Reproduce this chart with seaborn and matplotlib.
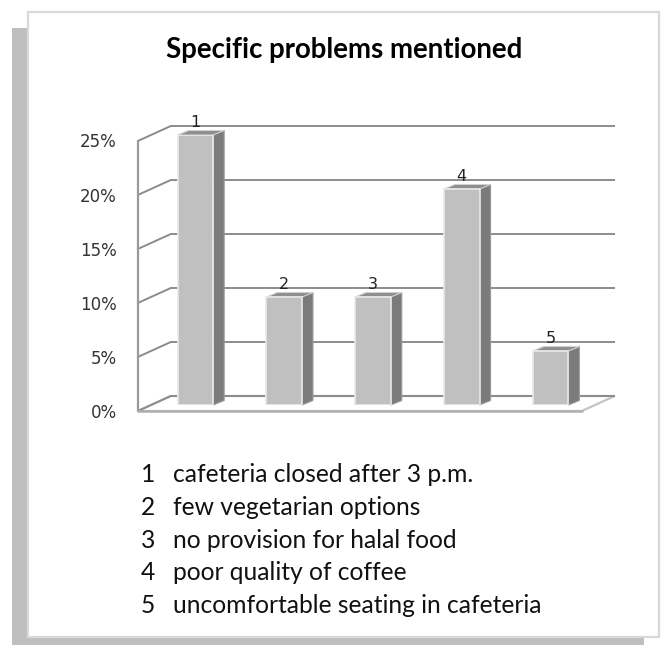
import matplotlib
matplotlib.use("Agg")
import matplotlib.pyplot as plt
import seaborn as sns
import pandas as pd
from matplotlib.patches import Rectangle, Polygon

# ---------------- data ----------------
categories = ["1", "2", "3", "4", "5"]
values = [25, 10, 10, 20, 5]
descriptions = [
    "cafeteria closed after 3 p.m.",
    "few vegetarian options",
    "no provision for halal food",
    "poor quality of coffee",
    "uncomfortable seating in cafeteria",
]
y_ticks = [0, 5, 10, 15, 20, 25]
y_tick_labels = ["0%", "5%", "10%", "15%", "20%", "25%"]
title = "Specific problems mentioned"

# ---------------- layout ----------------
W, H, DPI = 664, 645, 100
sns.set_theme(style="white")
plt.rcParams["font.family"] = ["DejaVu Sans"]

fig = plt.figure(figsize=(W / DPI, H / DPI), dpi=DPI)
fig.patch.set_facecolor("white")

# shadow + white frame
fig.patches.append(Rectangle((12 / W, 0), 632 / W, 617 / H, transform=fig.transFigure,
                             fc="#bfbfbf", ec="none", zorder=-2))
fig.patches.append(Rectangle((28 / W, 8 / H), 631 / W, 625 / H, transform=fig.transFigure,
                             fc="white", ec="#d9d9d9", lw=1.6, zorder=-1))

ax_l, ax_b, ax_w, ax_h = 151, 240, 444, 270  # pixels (bar plane)
ax = fig.add_axes([ax_l / W, ax_b / H, ax_w / W, ax_h / H])
ax.set_zorder(2)
ax.set_facecolor("none")

df = pd.DataFrame({"cat": categories, "val": values})
sns.barplot(data=df, x="cat", y="val", color="#c0c0c0", saturation=1, width=0.4,
            edgecolor="#e9e9e9", linewidth=1.2, ax=ax, zorder=6)
ax.set_xlim(-0.5, len(categories) - 0.5)
ax.set_ylim(0, max(y_ticks))
ax.axis("off")

x0, x1 = ax.get_xlim()
y0, y1 = ax.get_ylim()
sx = (x1 - x0) / ax_w
sy = (y1 - y0) / ax_h

def px(dx, dy):
    return dx * sx, dy * sy

depth = (33, 15)           # wall depth in pixels (right, up)
fx, fy = px(-0.4 * depth[0], -0.4 * depth[1])   # front plane
bx, by = px(0.6 * depth[0], 0.6 * depth[1])     # back plane
grid_c = "#8c8c8c"

# floor
floor = Polygon([(x0 + fx, y0 + fy), (x1 + fx, y0 + fy), (x1 + bx, y0 + by), (x0 + bx, y0 + by)],
                closed=True, fc="white", ec="#c4c4c4", lw=1.6, zorder=1, clip_on=False)
ax.add_patch(floor)

for t, lab in zip(y_ticks, y_tick_labels):
    ax.plot([x0 + bx, x1 + bx], [t + by, t + by], color=grid_c, lw=1.4, zorder=2,
            clip_on=False, solid_capstyle="butt")
    ax.plot([x0 + fx, x0 + bx], [t + fy, t + by], color=grid_c, lw=1.4, zorder=2,
            clip_on=False)
    lx, ly0 = px(-21, -1.5)
    ax.text(x0 + fx + lx, t + fy + ly0, lab, ha="right", va="center", fontsize=12,
            color="#333333")

ax.plot([x0 + fx, x0 + fx], [y0 + fy, y1 + fy], color="#9a9a9a", lw=1.6, zorder=3,
        clip_on=False)
ax.plot([x0 + fx, x1 + fx], [y0 + fy, y0 + fy], color="#b0b0b0", lw=1.8, zorder=3,
        clip_on=False)

# 3-D bar faces and labels
sdx, sdy = px(11, 4.5)
for patch, cat in zip([p for p in ax.patches if isinstance(p, Rectangle)], categories):
    bx0, bw, bh = patch.get_x(), patch.get_width(), patch.get_height()
    side = Polygon([(bx0 + bw, 0), (bx0 + bw + sdx, sdy), (bx0 + bw + sdx, bh + sdy), (bx0 + bw, bh)],
                   closed=True, fc="#7b7b7b", ec="#9a9a9a", lw=0.8, zorder=5, clip_on=False)
    top = Polygon([(bx0, bh), (bx0 + bw, bh), (bx0 + bw + sdx, bh + sdy), (bx0 + sdx, bh + sdy)],
                  closed=True, fc="#8e8e8e", ec="#d0d0d0", lw=0.8, zorder=5, clip_on=False)
    ax.add_patch(side)
    ax.add_patch(top)
    _, ly = px(0, 8)
    ax.text(bx0 + bw / 2, bh + ly, cat, ha="center", va="baseline", fontsize=11.5,
            color="#222222", zorder=7)

# title
tt = fig.text(344 / W, 1 - 58 / H, title, ha="center", va="baseline",
              fontsize=19, fontweight="bold", family=["Lato", "DejaVu Sans"], color="black")

# legend text
base0, step = 482, 32.75
legend_texts = []
for i, (cat, desc) in enumerate(zip(categories, descriptions)):
    yb = 1 - (base0 + i * step) / H
    fig.text(141 / W, yb, cat, ha="left", va="baseline", fontsize=14.5,
             family=["Lato", "DejaVu Sans"], color="#111111")
    legend_texts.append(fig.text(173 / W, yb, desc, ha="left", va="baseline", fontsize=14.5,
                                 family=["Lato", "DejaVu Sans"], color="#111111"))

# fit text widths to the reference
fig.canvas.draw()
r = fig.canvas.get_renderer()
tw = tt.get_window_extent(r).width
tt.set_fontsize(19 * 356 / tw)
lw_ = legend_texts[-1].get_window_extent(r).width
scale = 369 / lw_
for t in fig.texts:
    if t is not tt:
        t.set_fontsize(t.get_fontsize() * scale)

fig.savefig("out.png", dpi=DPI)
